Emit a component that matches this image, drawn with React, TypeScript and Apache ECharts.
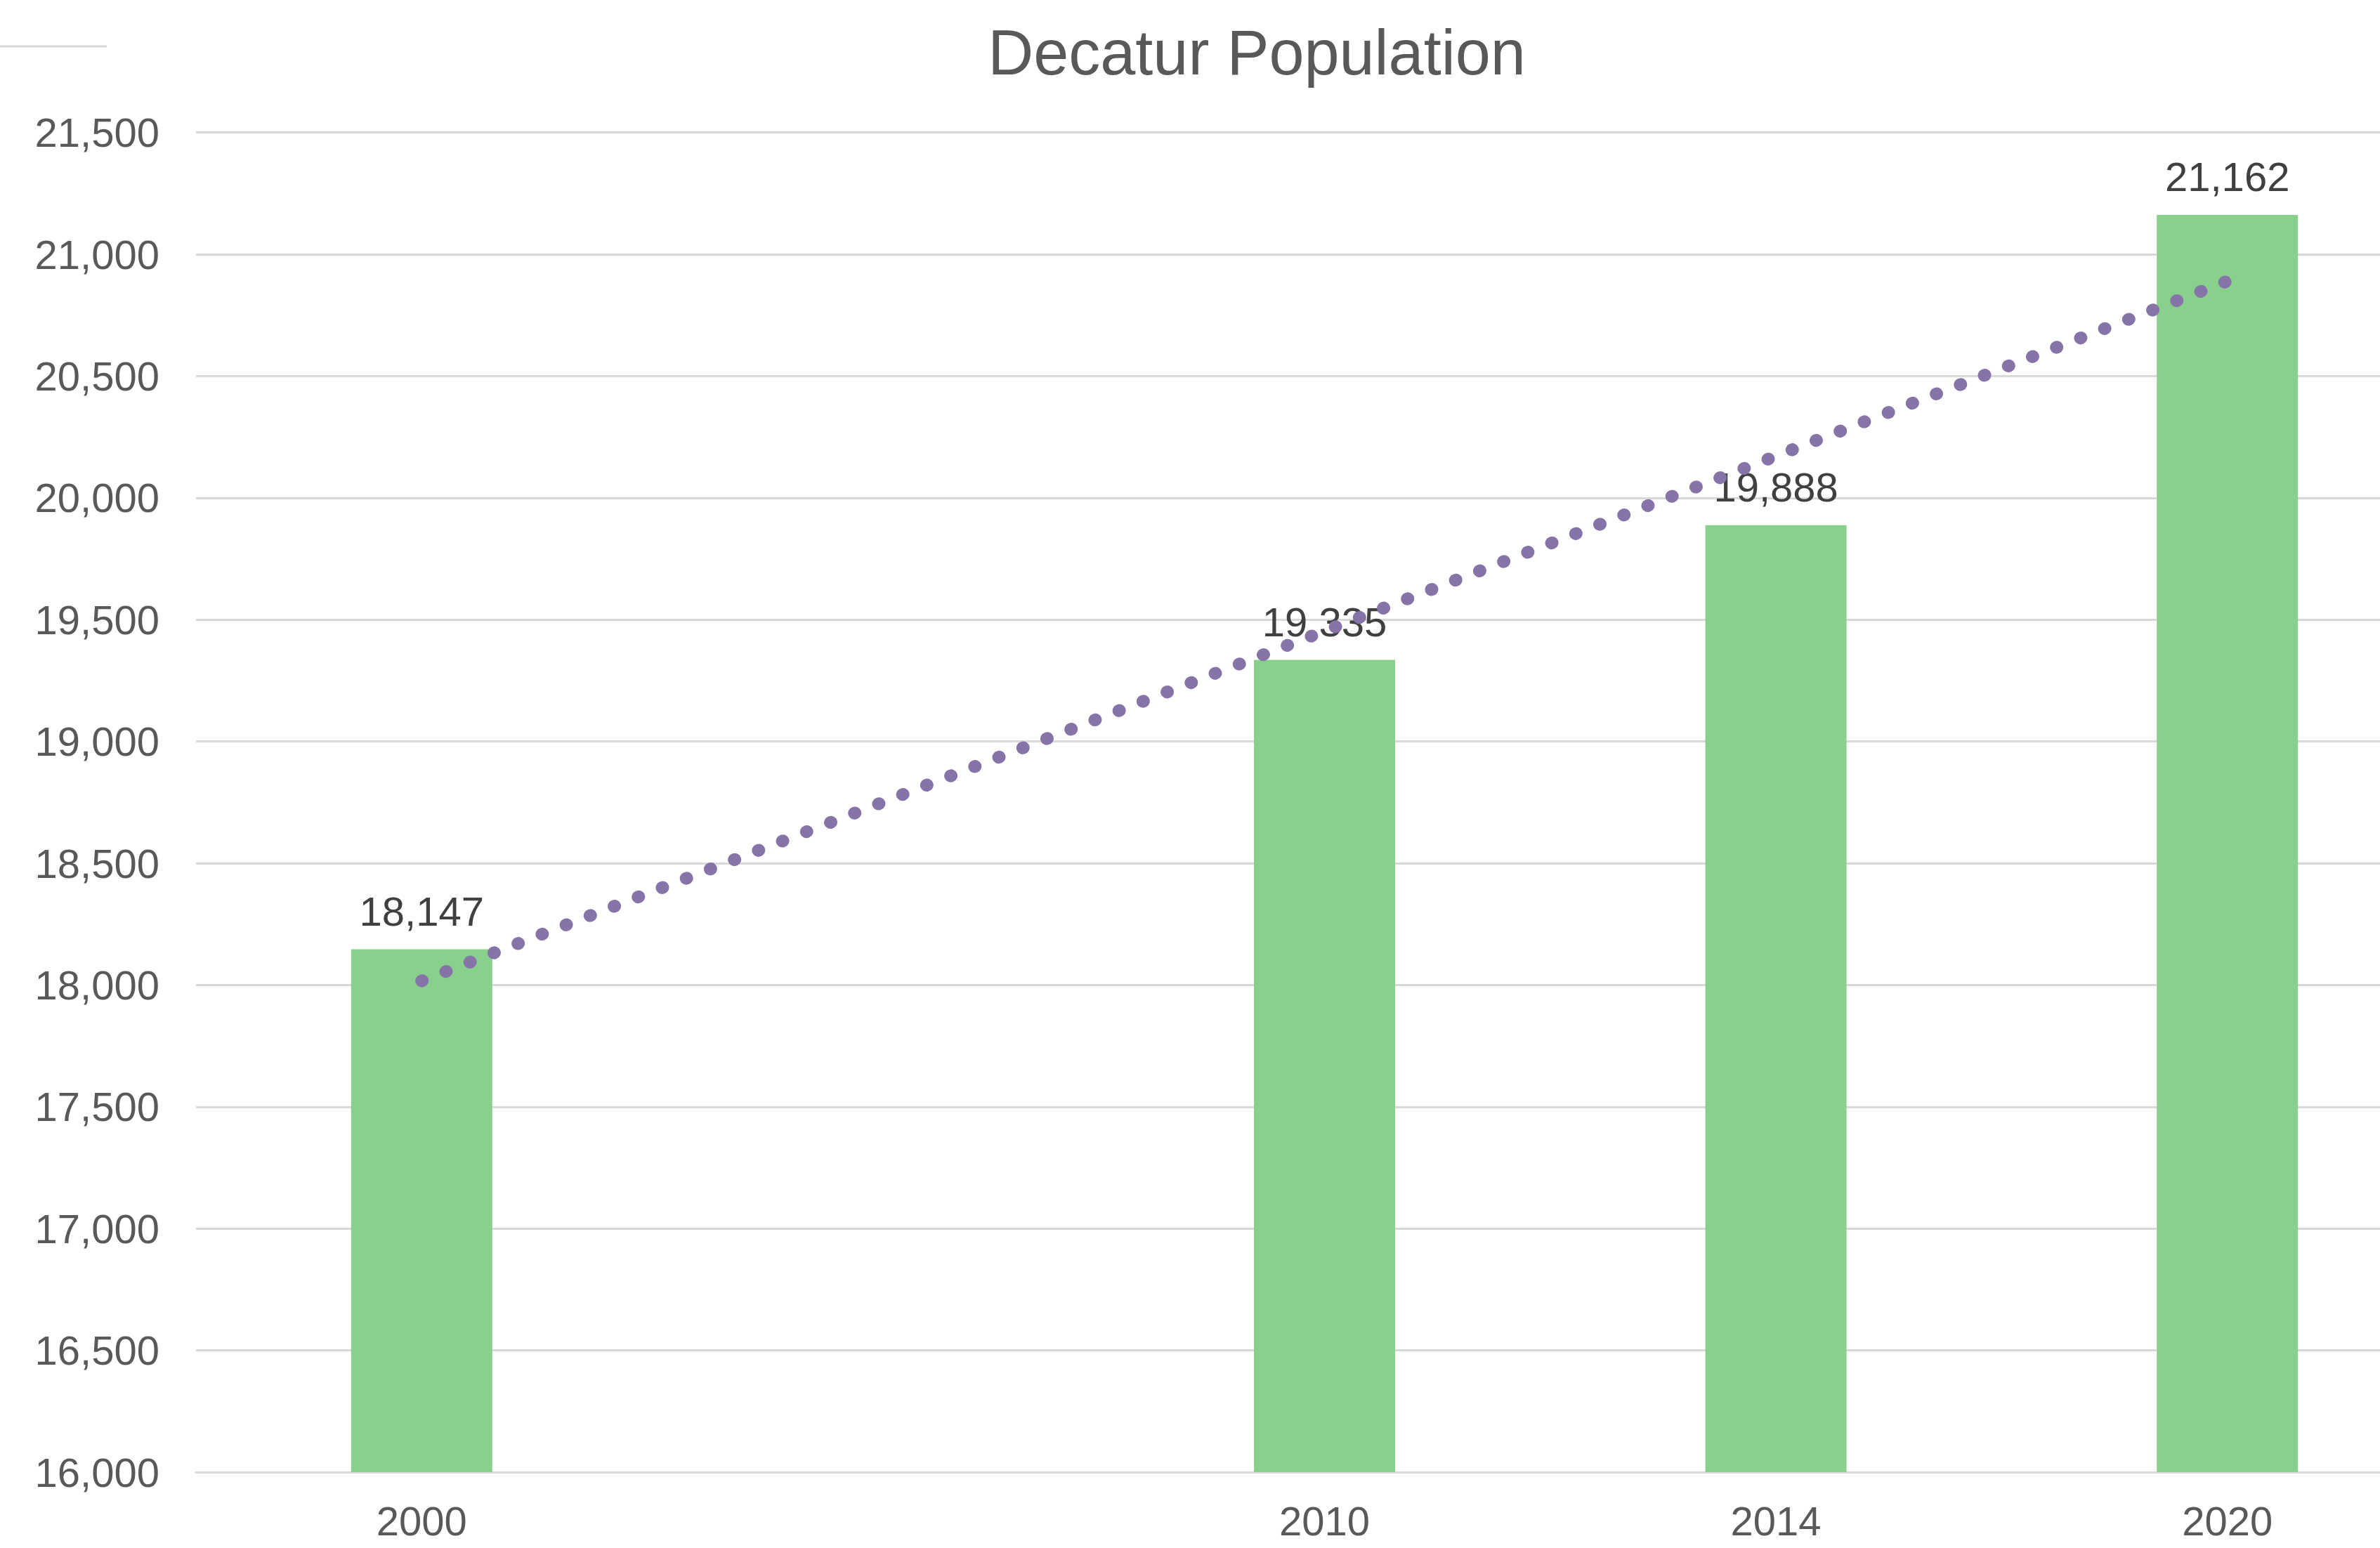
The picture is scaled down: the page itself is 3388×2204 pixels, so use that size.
import React, { useEffect, useRef } from "react";
import * as echarts from "echarts";

const categories = ["2000", "", "2010", "2014", "2020"];
const population = [18147, null, 19335, 19888, 21162];
const trendValues = [18017, null, null, null, 20890];
const yMin = 16000;
const yMax = 21500;
const yStep = 500;

const fmt = (v: number) => Number(v).toLocaleString("en-US");
const FONT = "'Liberation Sans', Arial, sans-serif";

export default function App() {
  const ref = useRef<HTMLDivElement>(null);
  useEffect(() => {
    document.body.style.margin = "0";
    document.body.style.overflow = "hidden";
    document.documentElement.style.overflow = "hidden";
    const chart = echarts.init(ref.current!, undefined, { renderer: "svg" });
    chart.setOption({
      animation: false,
      backgroundColor: "#ffffff",
      title: {
        text: "Decatur Population",
        left: 1789,
        top: 30,
        padding: 0,
        textAlign: "center",
        textStyle: {
          fontFamily: FONT,
          fontSize: 90,
          lineHeight: 90,
          fontWeight: "normal",
          color: "#595959",
        },
      },
      graphic: [
        {
          type: "line",
          shape: { x1: 0, y1: 66, x2: 152, y2: 66 },
          style: { stroke: "#D9D9D9", lineWidth: 3 },
        },
      ],
      grid: { left: 279, right: 8, top: 188.7, bottom: 108, containLabel: false },
      xAxis: {
        type: "category",
        data: categories,
        boundaryGap: true,
        axisLine: { show: true, lineStyle: { color: "#D9D9D9", width: 3 } },
        axisTick: { show: false },
        axisLabel: {
          interval: 0,
          margin: 40,
          fontFamily: FONT,
          fontSize: 58,
          color: "#595959",
        },
        splitLine: { show: false },
      },
      yAxis: {
        type: "value",
        min: yMin,
        max: yMax,
        interval: yStep,
        axisLine: { show: false },
        axisTick: { show: false },
        axisLabel: {
          margin: 52,
          fontFamily: FONT,
          fontSize: 58,
          color: "#595959",
          formatter: (v: number) => fmt(v),
        },
        splitLine: { show: true, lineStyle: { color: "#D9D9D9", width: 3 } },
      },
      series: [
        {
          type: "bar",
          data: population,
          barWidth: 201,
          z: 2,
          itemStyle: { color: "#89D08D" },
          label: {
            show: true,
            position: "top",
            distance: 25,
            fontFamily: FONT,
            fontSize: 58,
            color: "#404040",
            formatter: (p: any) => fmt(p.value),
          },
        },
        {
          type: "line",
          data: trendValues,
          connectNulls: true,
          showSymbol: false,
          symbol: "none",
          z: 5,
          lineStyle: {
            color: "#8673A8",
            width: 18,
            type: [1, 35.7],
            cap: "round",
          },
        },
      ],
    });
    return () => chart.dispose();
  }, []);
  return (
    <div
      ref={ref}
      style={{ position: "fixed", left: 0, top: 0, width: 3500, height: 2204 }}
    />
  );
}
